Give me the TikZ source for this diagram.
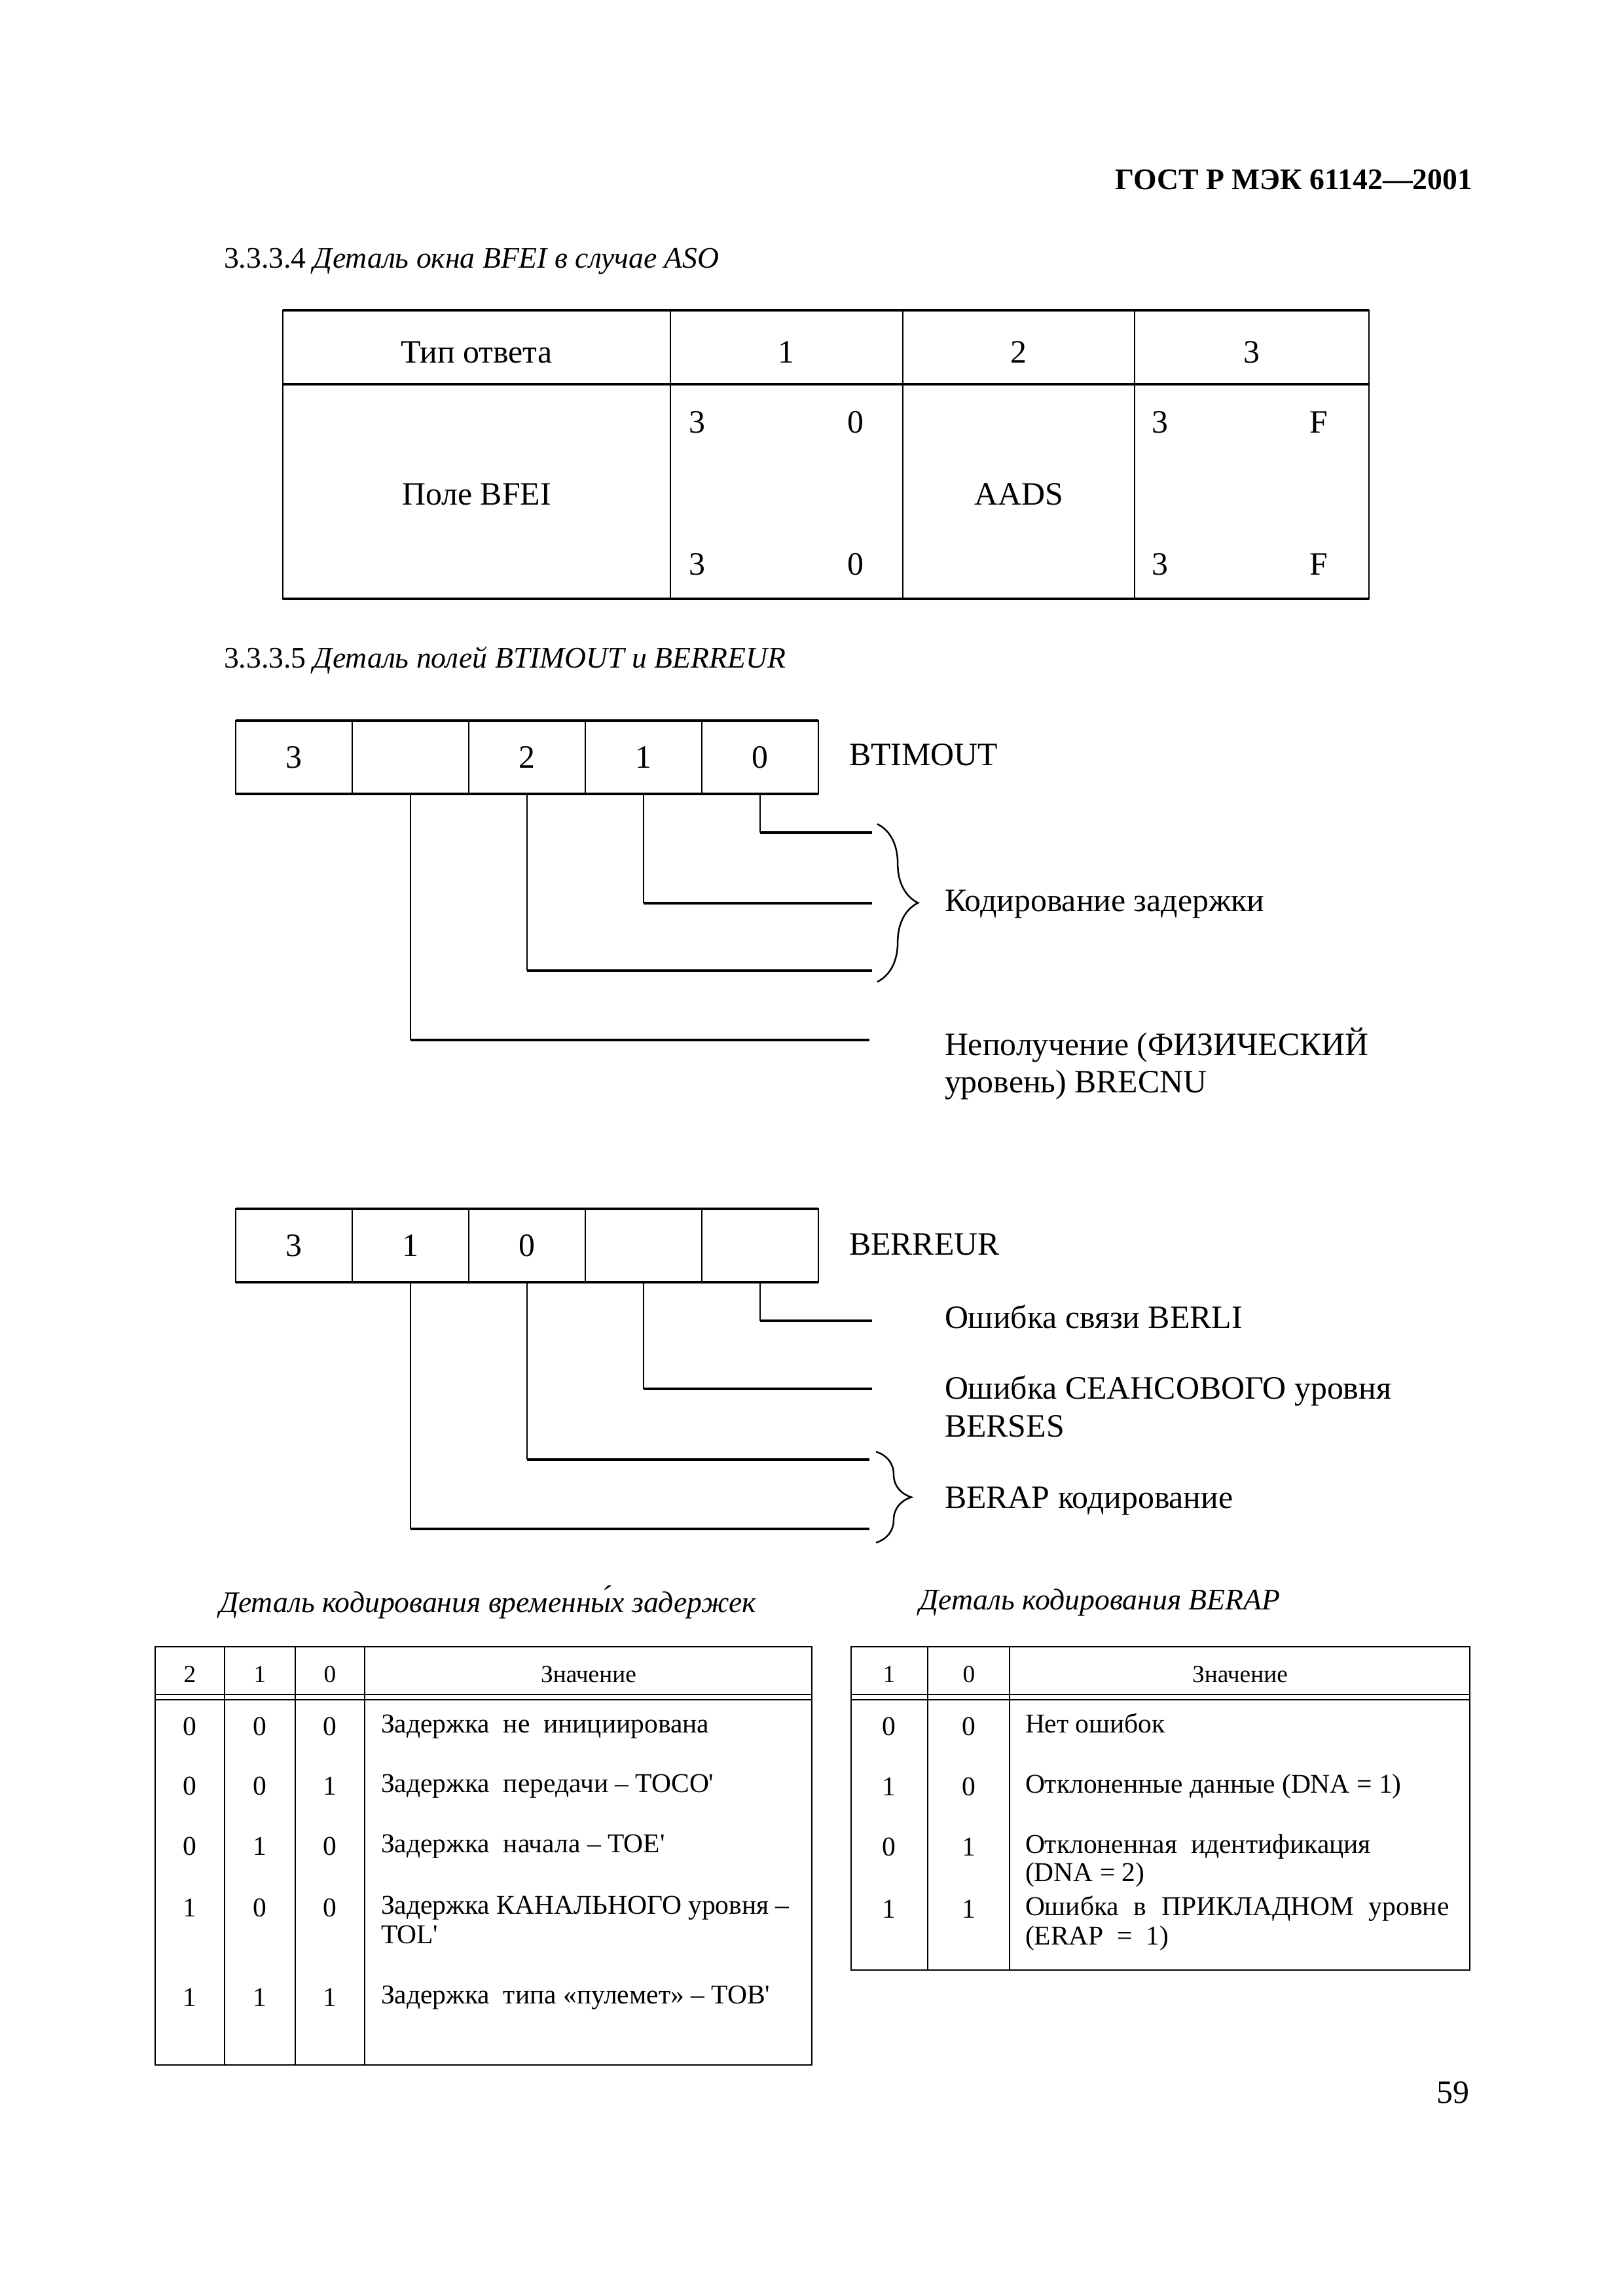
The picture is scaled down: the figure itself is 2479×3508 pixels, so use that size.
\documentclass[tikz,border=0pt]{standalone}
\usepackage{fontspec}
\setmainfont{Liberation Serif}
\usetikzlibrary{decorations.pathreplacing}
\begin{document}
\begin{tikzpicture}[x=0.084667mm,y=-0.084667mm,
  every node/.style={inner sep=0pt,outer sep=0pt},
  txt/.style={font=\fontsize{12}{14}\selectfont},
  captx/.style={font=\fontsize{11}{13}\selectfont},
  itx/.style={font=\fontsize{11}{13}\selectfont\itshape},
  hdr/.style={font=\fontsize{11}{13}\selectfont\bfseries},
  sml/.style={font=\fontsize{10}{12}\selectfont},
  tny/.style={font=\fontsize{9}{11}\selectfont},
  bitcell/.style={draw,line width=0.5pt,minimum width=42.72pt,minimum height=26.88pt,txt},
  thinln/.style={line width=0.5pt},
  thickln/.style={line width=1pt},
  leadv/.style={line width=0.5pt},
  leadh/.style={line width=0.9pt},
  brc/.style={decorate,decoration={brace,amplitude=#1},line width=0.6pt}]
\useasboundingbox (0,0) rectangle (2479,3508);

% header
\node[hdr,anchor=mid east] (gost) at (2249,280) {ГОСТ Р МЭК 61142—2001};
\node[captx,anchor=mid west] (cap1) at (342,400) {3.3.3.4 \textit{Деталь окна BFEI в случае ASO}};

% table BFEI
\draw[thinln] (432,474) rectangle (2091,915);
\draw[thickln] (432,474) -- (2091,474);
\draw[thickln] (432,915) -- (2091,915);
\draw[thickln] (432,587) -- (2091,587);
\draw[thinln] (1024,474) -- (1024,915);
\draw[thinln] (1379,474) -- (1379,915);
\draw[thinln] (1733,474) -- (1733,915);
\node[txt] (th0) at (728,538) {Тип ответа};
\node[txt] (th1) at (1201,538) {1};
\node[txt] (th2) at (1556,538) {2};
\node[txt] (th3) at (1912,538) {3};
\node[txt] (tb0) at (728,755) {Поле BFEI};
\node[txt] (tb2) at (1556,755) {AADS};
\node[txt] (a1) at (1065,645) {3};
\node[txt] (a2) at (1307,645) {0};
\node[txt] (a3) at (1065,862) {3};
\node[txt] (a4) at (1307,862) {0};
\node[txt] (b1) at (1772,645) {3};
\node[txt] (b2) at (2014,645) {F};
\node[txt] (b3) at (1772,862) {3};
\node[txt] (b4) at (2014,862) {F};

\node[captx,anchor=mid west] (cap2) at (342,1011) {3.3.3.5 \textit{Деталь полей BTIMOUT и BERREUR}};

% BTIMOUT register
\node[bitcell] (t1) at (449,1157) {3};
\node[bitcell] (t2) at (627,1157) {};
\node[bitcell] (t3) at (805,1157) {2};
\node[bitcell] (t4) at (983,1157) {1};
\node[bitcell] (t5) at (1161,1157) {0};
\draw[thickln] (t1.north west) -- (t5.north east);
\draw[thickln] (t1.south west) -- (t5.south east);
\node[txt,anchor=mid west] (btim) at (1297,1160) {BTIMOUT};

\coordinate (e5) at (1332,1272);
\coordinate (e4) at (1332,1380);
\coordinate (e3) at (1332,1483);
\coordinate (e2) at (1328,1589);
\draw[leadv] (t5.south) -- (t5.south |- e5);
\draw[leadh] (t5.south |- e5) -- (e5);
\draw[leadv] (t4.south) -- (t4.south |- e4);
\draw[leadh] (t4.south |- e4) -- (e4);
\draw[leadv] (t3.south) -- (t3.south |- e3);
\draw[leadh] (t3.south |- e3) -- (e3);
\draw[leadv] (t2.south) -- (t2.south |- e2);
\draw[leadh] (t2.south |- e2) -- (e2);

\coordinate (br1a) at (1340,1259);
\coordinate (br1b) at (1340,1500);
\draw[brc=15pt] (br1a) -- (br1b);
\node[txt,anchor=mid west] (kod) at (1443,1383) {Кодирование задержки};
\node[txt,anchor=mid west] (nep1) at (1443,1603) {Неполучение (ФИЗИЧЕСКИЙ};
\node[txt,anchor=mid west] (nep2) at (1443,1660) {уровень) BRECNU};

% BERREUR register
\node[bitcell] (r1) at (449,1903) {3};
\node[bitcell] (r2) at (627,1903) {1};
\node[bitcell] (r3) at (805,1903) {0};
\node[bitcell] (r4) at (983,1903) {};
\node[bitcell] (r5) at (1161,1903) {};
\draw[thickln] (r1.north west) -- (r5.north east);
\draw[thickln] (r1.south west) -- (r5.south east);
\node[txt,anchor=mid west] (berr) at (1297,1908) {BERREUR};

\coordinate (f5) at (1332,2018);
\coordinate (f4) at (1332,2122);
\coordinate (f3) at (1328,2230);
\coordinate (f2) at (1328,2336);
\draw[leadv] (r5.south) -- (r5.south |- f5);
\draw[leadh] (r5.south |- f5) -- (f5);
\draw[leadv] (r4.south) -- (r4.south |- f4);
\draw[leadh] (r4.south |- f4) -- (f4);
\draw[leadv] (r3.south) -- (r3.south |- f3);
\draw[leadh] (r3.south |- f3) -- (f3);
\draw[leadv] (r2.south) -- (r2.south |- f2);
\draw[leadh] (r2.south |- f2) -- (f2);

\coordinate (br2a) at (1338,2218);
\coordinate (br2b) at (1338,2357);
\draw[brc=13pt] (br2a) -- (br2b);
\node[txt,anchor=mid west] (berli) at (1443,2020) {Ошибка связи BERLI};
\node[txt,anchor=mid west] (bers1) at (1443,2128) {Ошибка СЕАНСОВОГО уровня};
\node[txt,anchor=mid west] (bers2) at (1443,2186) {BERSES};
\node[txt,anchor=mid west] (berap) at (1443,2295) {BERAP кодирование};

% bottom-left table
\node[itx] (cap3) at (745,2448) {Деталь кодирования временны́х задержек};
\draw[thinln] (237,2516) rectangle (1240,3155);
\draw[thinln] (237,2589) -- (1240,2589);
\draw[thinln] (237,2597) -- (1240,2597);
\draw[thinln] (343,2516) -- (343,3155);
\draw[thinln] (451,2516) -- (451,3155);
\draw[thinln] (557,2516) -- (557,3155);
\node[tny] (lh2) at (290,2558) {2};
\node[tny] (lh1) at (397,2558) {1};
\node[tny] (lh0) at (504,2558) {0};
\node[tny] (lhz) at (899,2558) {Значение};
\foreach \y/\a/\b/\c [count=\i] in {2638/0/0/0, 2729/0/0/1, 2821/0/1/0, 2915/1/0/0, 3052/1/1/1}{
  \node[sml] (la\i) at (290,\y) {\a};
  \node[sml] (lb\i) at (397,\y) {\b};
  \node[sml] (lc\i) at (504,\y) {\c};
}
\node[sml,anchor=mid west] (lt1) at (582,2638) {Задержка\ \ не\ \ инициирована};
\node[sml,anchor=mid west] (lt2) at (582,2729) {Задержка\ \ передачи – TOCO\textquotesingle};
\node[sml,anchor=mid west] (lt3) at (582,2821) {Задержка\ \ начала – TOE\textquotesingle};
\node[sml,anchor=mid west] (lt4) at (582,2915) {Задержка КАНАЛЬНОГО уровня –};
\node[sml,anchor=mid west] (lt4b) at (582,2960) {TOL\textquotesingle};
\node[sml,anchor=mid west] (lt5) at (582,3052) {Задержка\ \ типа «пулемет» – TOB\textquotesingle};

% bottom-right table
\node[itx] (cap4) at (1680,2448) {Деталь кодирования BERAP};
\draw[thinln] (1300,2516) rectangle (2245,3010);
\draw[thinln] (1300,2589) -- (2245,2589);
\draw[thinln] (1300,2597) -- (2245,2597);
\draw[thinln] (1417,2516) -- (1417,3010);
\draw[thinln] (1542,2516) -- (1542,3010);
\node[tny] (rh1) at (1358,2558) {1};
\node[tny] (rh0) at (1480,2558) {0};
\node[tny] (rhz) at (1894,2558) {Значение};
\foreach \y/\a/\b [count=\i] in {2638/0/0, 2730/1/0, 2822/0/1, 2917/1/1}{
  \node[sml] (ra\i) at (1358,\y) {\a};
  \node[sml] (rb\i) at (1480,\y) {\b};
}
\node[sml,anchor=mid west] (rt1) at (1566,2638) {Нет ошибок};
\node[sml,anchor=mid west] (rt2) at (1566,2730) {Отклоненные данные (DNA = 1)};
\node[sml,anchor=mid west] (rt3) at (1566,2822) {Отклоненная\ \ идентификация};
\node[sml,anchor=mid west] (rt3b) at (1566,2865) {(DNA = 2)};
\node[sml,anchor=mid west] (rt4) at (1566,2917) {\makebox[156pt][s]{Ошибка в ПРИКЛАДНОМ уровне}};
\node[sml,anchor=mid west] (rt4b) at (1566,2962) {(ERAP\ \ =\ \ 1)};

\node[txt,anchor=mid east] (page) at (2244,3204) {59};
\end{tikzpicture}
\end{document}
